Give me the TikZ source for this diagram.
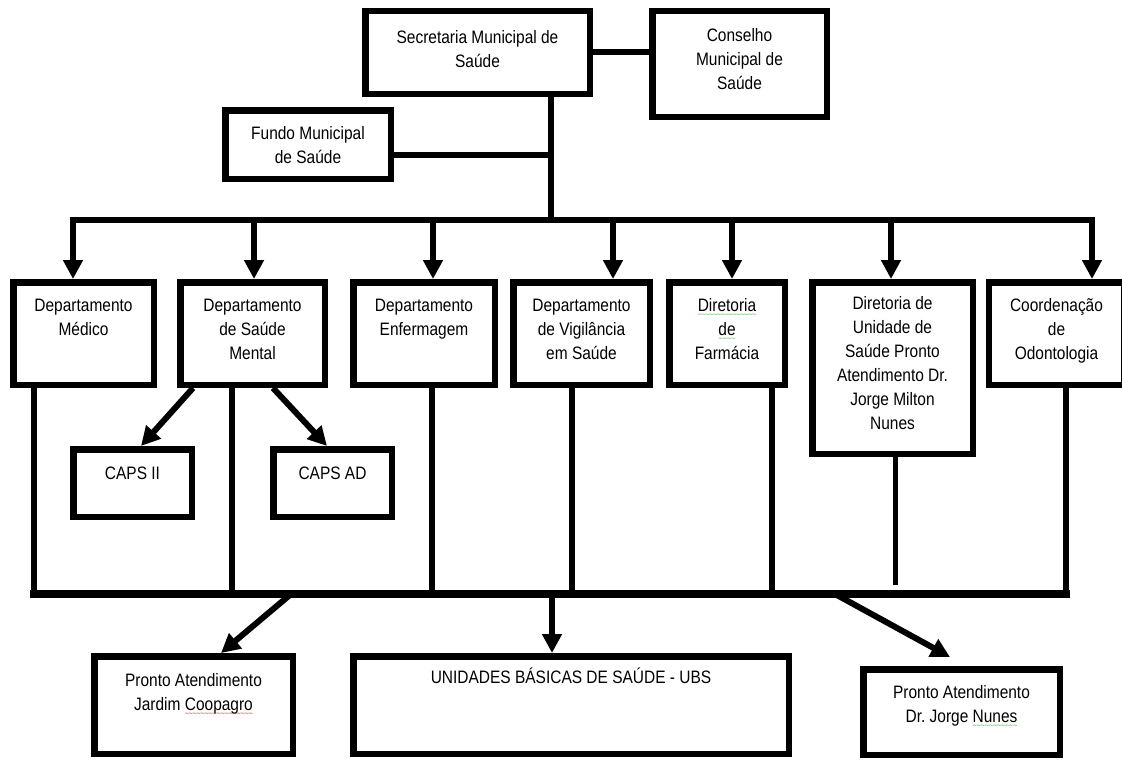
\documentclass[tikz,border=0pt]{standalone}
\usepackage{fontspec}
\setmainfont{Liberation Sans}[FakeStretch=0.86]
\newfontfamily\wavefont{DejaVu Sans}
\usepackage{xcolor}
\usepackage{tikz}
\usetikzlibrary{arrows.meta,positioning}

\definecolor{spellred}{RGB}{215,25,25}
\definecolor{spellgreen}{RGB}{40,165,40}
\newcommand{\spellwave}[2]{\leavevmode\setbox0\hbox{#2}\rlap{\copy0}\smash{\lower4.5pt\hbox to\wd0{\color{#1}\wavefont\fontsize{6}{6}\selectfont\xleaders\hbox{\kern-0.6pt∼\kern-0.6pt}\hfill}}}
\newcommand{\redwave}[1]{\spellwave{spellred}{#1}}
\newcommand{\greenwave}[1]{\spellwave{spellgreen}{#1}}

\begin{document}
\begin{tikzpicture}[x=1pt,y=-1pt,>={Triangle[width=19pt,length=19pt]},line join=miter,
  box/.style={draw,line width=6.5pt,fill=white,inner sep=0pt},
  lbl/.style={align=center,inner sep=0pt,font=\fontsize{18}{24}\selectfont},
  conn/.style={line width=6pt},
  arr/.style={line width=6pt,->}]
  \fill[white] (0,0) rectangle (1122,760);
  \useasboundingbox (0,0) rectangle (1122,760);
  % top level
  \node[box,minimum width=224.5pt,minimum height=82.5pt] (sec) at (477.5,52.5) {};
  \node[box,minimum width=174.5pt,minimum height=105.5pt] (cons) at (739.5,64) {};
  \node[box,minimum width=165.5pt,minimum height=68.5pt] (fundo) at (308,144.5) {};
  \node[lbl,below=22.5pt of sec.north] (secT) {Secretaria Municipal de\\Saúde};
  \node[lbl,below=20.5pt of cons.north] (consT) {Conselho\\Municipal de\\Saúde};
  \node[lbl,below=19.5pt of fundo.north] (fundoT) {Fundo Municipal\\de Saúde};
  % departments
  \node[box,minimum width=140.5pt,minimum height=102.5pt] (med) at (83.5,333.5) {};
  \node[box,minimum width=144.5pt,minimum height=102.5pt] (ment) at (252.5,333.5) {};
  \node[box,minimum width=141.5pt,minimum height=102.5pt] (enf) at (424,333.5) {};
  \node[box,minimum width=136.5pt,minimum height=102.5pt] (vig) at (581.5,333.5) {};
  \node[box,minimum width=115.5pt,minimum height=102.5pt] (farm) at (727,333.5) {};
  \node[box,minimum width=160.5pt,minimum height=171.5pt] (dir) at (892.5,368) {};
  \node[box,minimum width=135pt,minimum height=102.5pt] (coord) at (1056.5,333.5) {};
  \node[lbl,below=19.5pt of med.north] (medT) {Departamento\\Médico};
  \node[lbl,below=19.5pt of ment.north] (mentT) {Departamento\\de Saúde\\Mental};
  \node[lbl,below=19.5pt of enf.north] (enfT) {Departamento\\Enfermagem};
  \node[lbl,below=19.5pt of vig.north] (vigT) {Departamento\\de Vigilância\\em Saúde};
  \node[lbl,below=19.5pt of farm.north] (farmT) {\greenwave{Diretoria}\\\greenwave{de}\\Farmácia};
  \node[lbl,below=17.5pt of dir.north] (dirT) {Diretoria de\\Unidade de\\Saúde Pronto\\Atendimento Dr.\\Jorge Milton\\Nunes};
  \node[lbl,below=19.5pt of coord.north] (coordT) {Coordenação\\de\\Odontologia};
  % CAPS
  \node[box,minimum width=118.5pt,minimum height=67.5pt] (caps2) at (132.5,483) {};
  \node[box,minimum width=118.5pt,minimum height=67.5pt] (capsad) at (332.5,483) {};
  \node[lbl,below=20.5pt of caps2.north] (caps2T) {CAPS II};
  \node[lbl,below=20.5pt of capsad.north] (capsadT) {CAPS AD};
  % bottom units
  \node[box,minimum width=198.5pt,minimum height=97.5pt] (coop) at (193.5,705) {};
  \node[box,minimum width=435.5pt,minimum height=97.5pt] (ubs) at (571,705) {};
  \node[box,minimum width=196.5pt,minimum height=85.5pt] (nunes) at (961.5,712) {};
  \node[lbl,below=20.5pt of coop.north] (coopT) {Pronto Atendimento\\Jardim \redwave{Coopagro}};
  \node[lbl,below=15pt of ubs.north] (ubsT) {UNIDADES BÁSICAS DE SAÚDE - UBS};
  \node[lbl,below=19.5pt of nunes.north] (nunesT) {Pronto Atendimento\\Dr.\ Jorge \greenwave{Nunes}};
  % trunk and top bar
  \coordinate (tj) at (551,220);
  \coordinate (fj) at (551,155);
  \draw[conn] (sec.east) -- (sec.east -| cons.west);
  \draw[conn] (tj |- sec.south) -- (tj);
  \draw[conn] (fundo.east |- fj) -- (fj);
  \coordinate (a1) at (73,220);
  \coordinate (a2) at (254,220);
  \coordinate (a3) at (433,220);
  \coordinate (a4) at (613,220);
  \coordinate (a5) at (732,220);
  \coordinate (a6) at (891,220);
  \coordinate (a7) at (1092,220);
  \draw[conn,line cap=rect] (a1) -- (a7);
  \draw[arr] (a1) -- (a1 |- med.north);
  \draw[arr] (a2) -- (a2 |- ment.north);
  \draw[arr] (a3) -- (a3 |- enf.north);
  \draw[arr] (a4) -- (a4 |- vig.north);
  \draw[arr] (a5) -- (a5 |- farm.north);
  \draw[arr] (a6) -- (a6 |- dir.north);
  \draw[arr] (a7) -- (a7 |- coord.north);
  % mental health
  \draw[arr] ([xshift=16pt]ment.south west) -- ([xshift=8.5pt]caps2.north);
  \draw[arr] ([xshift=-55pt]ment.south east) -- ([xshift=-5.5pt]capsad.north);
  % bottom bar
  \coordinate (d1) at (34,594);
  \coordinate (d2) at (232,594);
  \coordinate (d3) at (432,594);
  \coordinate (d4) at (571.5,594);
  \coordinate (d5) at (772,594);
  \coordinate (d6) at (895,585);
  \coordinate (d7) at (1066,594);
  \draw[line width=8pt,line cap=rect] (d1) -- (d7);
  \draw[conn] (d1 |- med.south) -- (d1);
  \draw[conn] (d2 |- ment.south) -- (d2);
  \draw[conn] (d3 |- enf.south) -- (d3);
  \draw[conn] (d4 |- vig.south) -- (d4);
  \draw[conn] (d5 |- farm.south) -- (d5);
  \draw[line width=5pt] (d6 |- dir.south) -- (d6);
  \draw[conn] (d7 |- coord.south) -- (d7);
  \coordinate (e1) at (291,594);
  \coordinate (e2) at (552,594);
  \coordinate (e3) at (835,594);
  \draw[arr] (e1) -- ([xshift=27.5pt]coop.north);
  \draw[arr] (e2) -- (e2 |- ubs.north);
  \draw[arr] (e3) -- ([xshift=-11.5pt,yshift=9pt]nunes.north);
\end{tikzpicture}
\end{document}
